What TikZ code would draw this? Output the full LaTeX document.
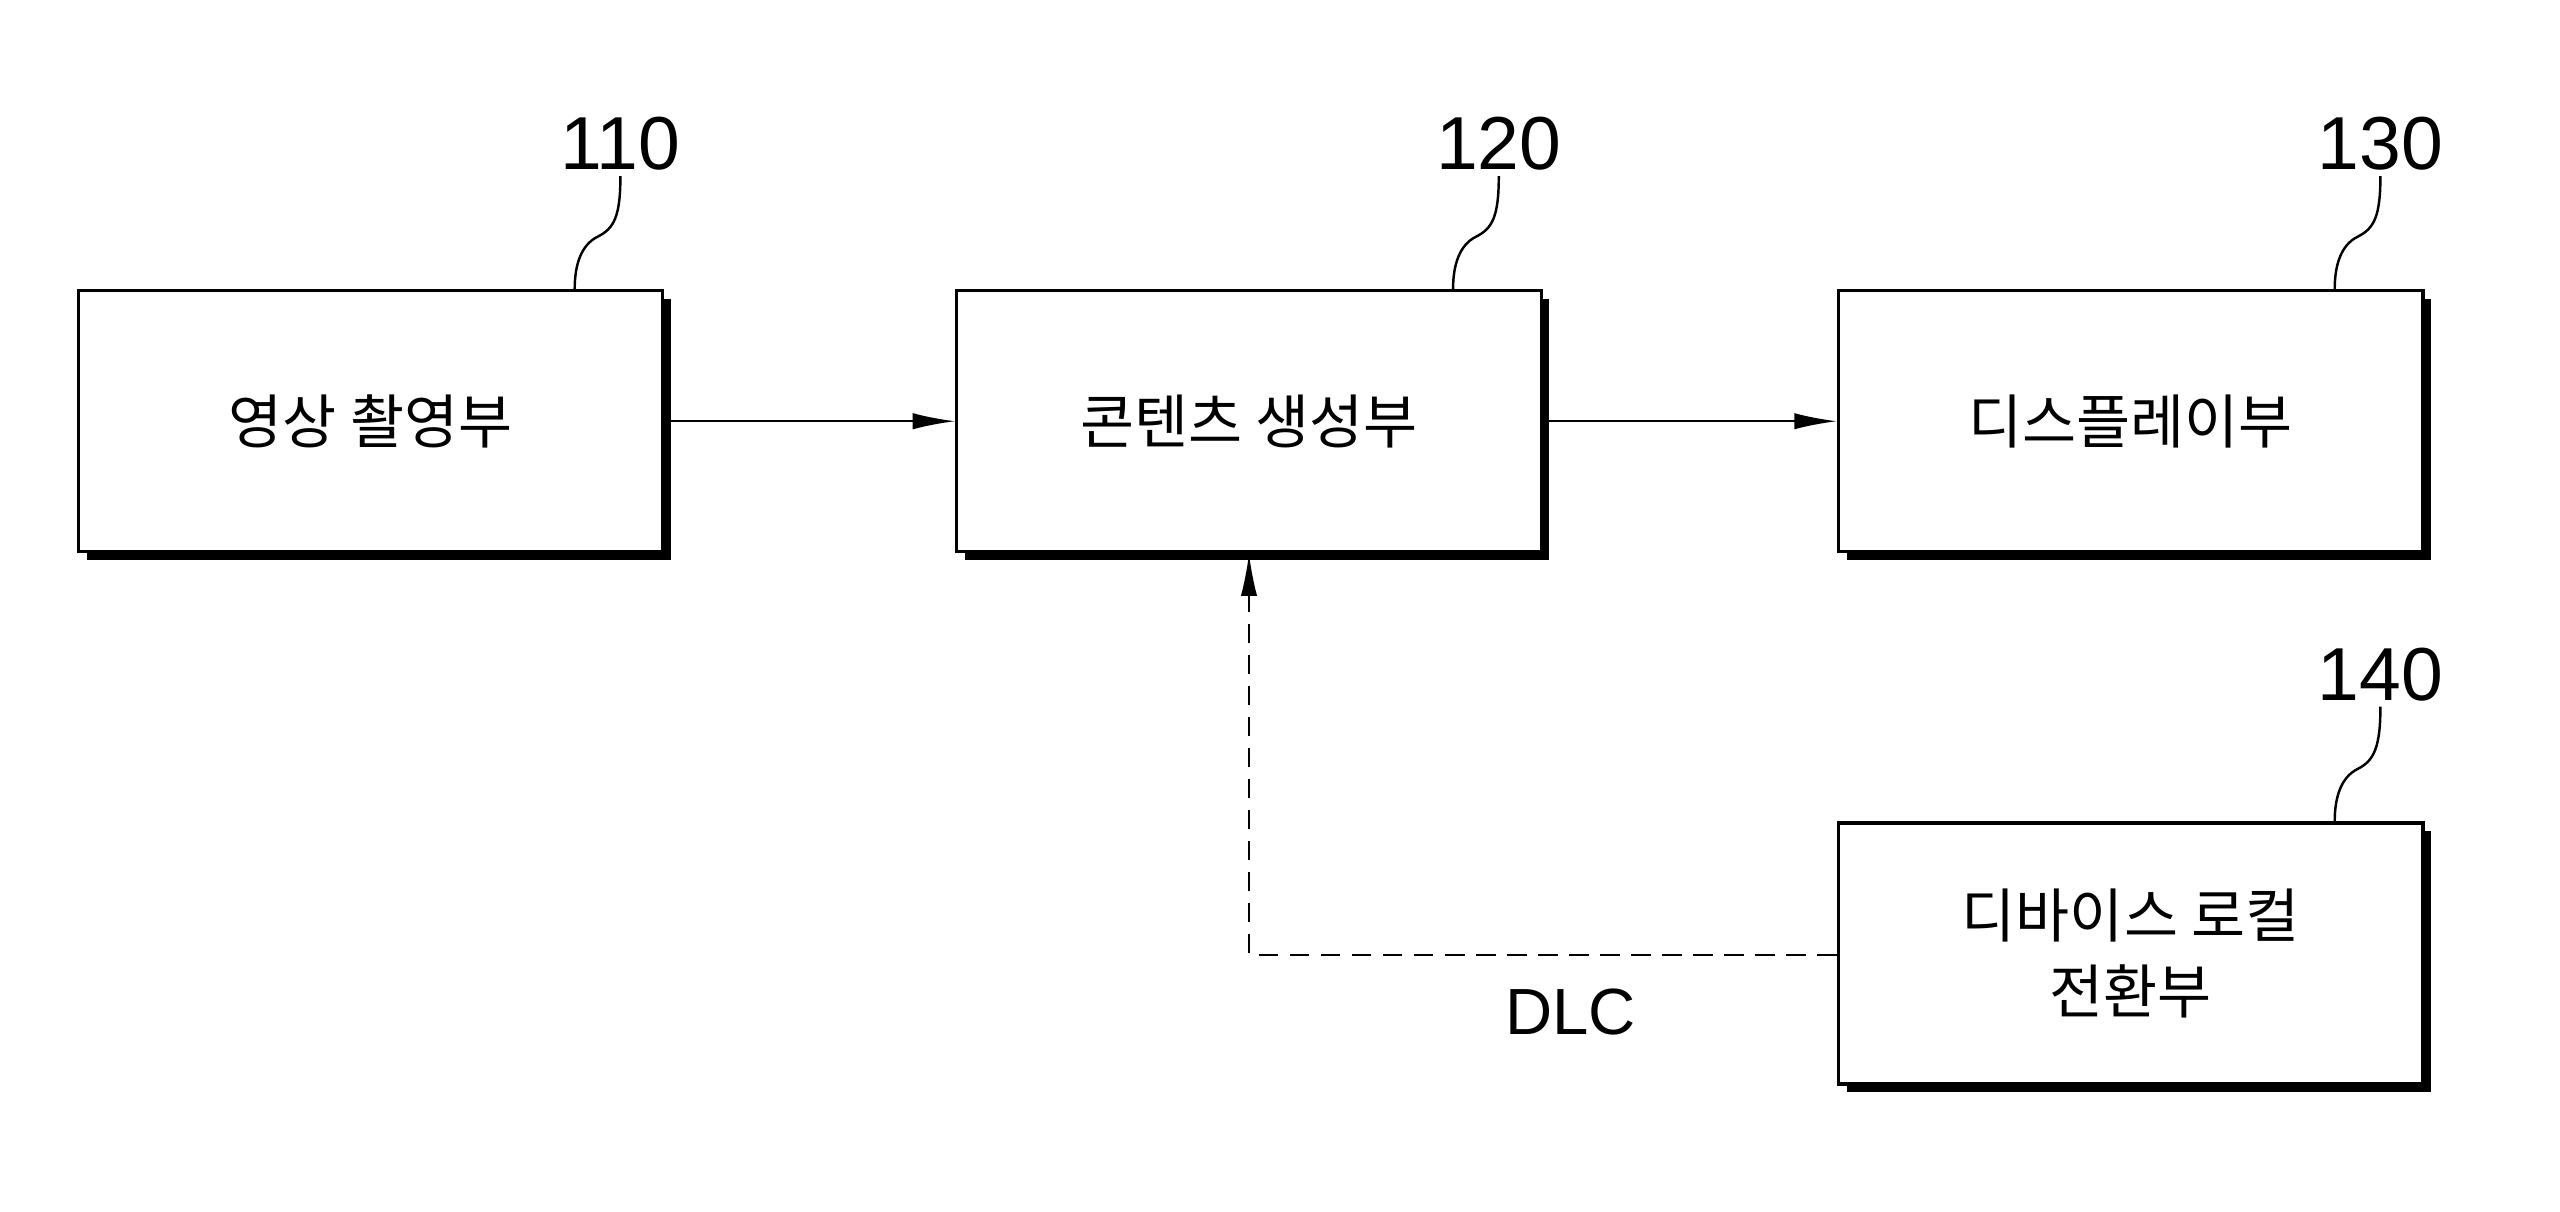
\documentclass[tikz,border=0pt]{standalone}
\usepackage{fontspec}
\setmainfont{Liberation Sans}
\newfontfamily\kr{Noto Sans CJK KR}
\usetikzlibrary{arrows.meta,calc}
\begin{document}
\begin{tikzpicture}[x=1pt,y=-1pt,
  blk/.style={draw,line width=2pt,fill=white,minimum width=358pt,minimum height=160pt,anchor=north west,font=\kr\fontsize{36}{46}\selectfont,align=center,inner sep=0pt},
  num/.style={font=\fontsize{46}{50}\selectfont},
  lead/.style={line width=1.5pt},
  arr/.style={line width=1.2pt,-{Latex[length=26pt,width=10pt]}}]
\useasboundingbox (0,0) rectangle (1568,742);
\foreach \x/\y in {47/177,585/177,1125/177,1125/503}{
  \fill (\x+6,\y+6) rectangle (\x+364,\y+166);}
\node[blk] (a) at (47,177) {영상 촬영부};
\node[blk] (b) at (585,177) {콘텐츠 생성부};
\node[blk] (c) at (1125,177) {디스플레이부};
\node[blk] (d) at (1125,503) {디바이스 로컬\\전환부};
\node[num] (na) at (380,88) {110};
\node[num] (nb) at (918,88) {120};
\node[num] (nc) at (1458,88) {130};
\node[num] (nd) at (1458,413) {140};
\foreach \n/\x/\y in {na/352/177,nb/890/177,nc/1430/177,nd/1430/503}{
  \draw[lead] (\n.south) .. controls +(0,25) and +(10,-5) .. ($(\x,\y)+(14,-32)$) .. controls +(-10,5) and +(0,-15) .. (\x,\y);}
\draw[arr] (a.east) -- (b.west);
\draw[arr] (b.east) -- (c.west);
\coordinate (k) at (765,585);
\draw[arr,dashed,dash pattern=on 12pt off 7pt] (d.west |- k) -- (k) -- (b.south -| k);
\node[font=\fontsize{40}{44}\selectfont] (dlc) at (962,620) {DLC};
\end{tikzpicture}
\end{document}
